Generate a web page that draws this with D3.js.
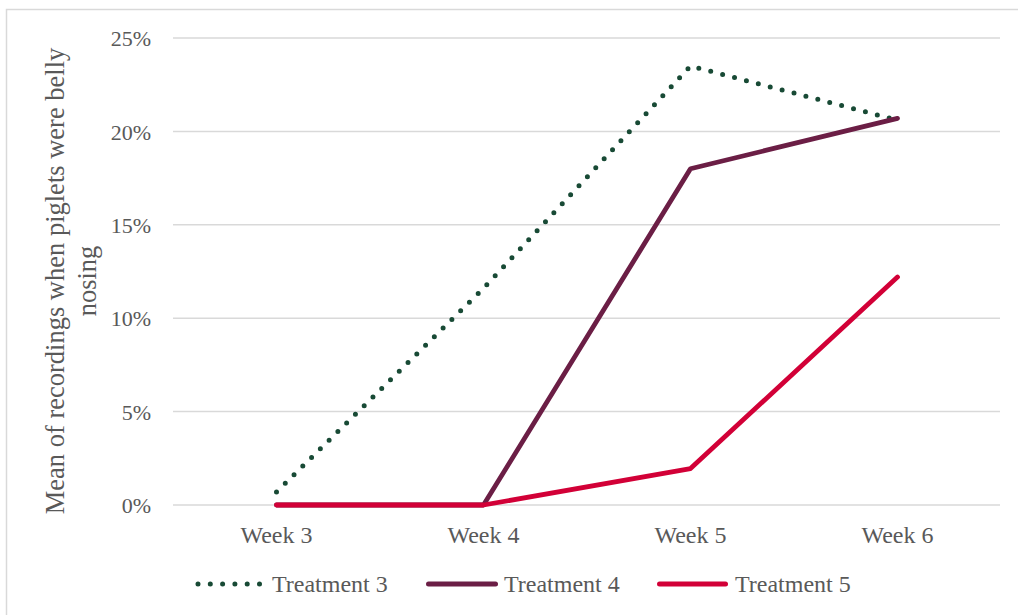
<!DOCTYPE html>
<html>
<head>
<meta charset="utf-8">
<script src="https://cdn.jsdelivr.net/npm/d3@7"></script>
<style>
html,body{margin:0;padding:0;background:#fff;}
svg{display:block;}
text{font-family:"Liberation Serif","Times New Roman",serif;fill:#595959;}
</style>
</head>
<body>
<svg id="chart" width="1018" height="615"></svg>
<script>
const categories = ["Week 3", "Week 4", "Week 5", "Week 6"];
const treatment3 = [0.007, 0.116, 0.235, 0.206];
const treatment4 = [0, 0, 0.180, 0.207];
const treatment5 = [0, 0, 0.0195, 0.122];
const seriesNames = ["Treatment 3", "Treatment 4", "Treatment 5"];
const yTicks = [0, 0.05, 0.10, 0.15, 0.20, 0.25];
const yTitleLines = ["Mean of recordings when piglets were belly", "nosing"];

const series = [
  {name: seriesNames[0], values: treatment3, color: "#184a35", dotted: true},
  {name: seriesNames[1], values: treatment4, color: "#6b1e45", dotted: false},
  {name: seriesNames[2], values: treatment5, color: "#d20037", dotted: false}
];

const svg = d3.select("#chart");
const W = 1018, H = 615;
const plot = {left: 173, right: 1001, top: 38, bottom: 505};

// outer border
svg.append("rect").attr("x", 6.5).attr("y", 9.5).attr("width", W + 10).attr("height", H + 10)
  .attr("fill", "none").attr("stroke", "#d9d9d9").attr("stroke-width", 1.5);

const x = d3.scaleBand().domain(categories).range([plot.left, plot.right]);
const y = d3.scaleLinear().domain([0, 0.25]).range([plot.bottom, plot.top]);

// gridlines
svg.append("g").selectAll("line").data(yTicks).join("line")
  .attr("x1", plot.left).attr("x2", plot.right - 1)
  .attr("y1", d => y(d)).attr("y2", d => y(d))
  .attr("stroke", "#d9d9d9").attr("stroke-width", 1.5);

// y axis labels
const yAxis = d3.axisLeft(y).tickValues(yTicks).tickFormat(d3.format(".0%")).tickSize(0).tickPadding(0);
const gy = svg.append("g").attr("transform", `translate(151,0)`).call(yAxis);
gy.select(".domain").remove();
gy.selectAll("text").attr("font-size", 22).attr("fill", "#595959")
  .attr("font-family", "Liberation Serif, Times New Roman, serif").attr("dy", "0.35em");

// x axis labels
const xAxis = d3.axisBottom(x).tickSize(0).tickPadding(0);
const gx = svg.append("g").attr("transform", `translate(0,${plot.bottom + 21})`).call(xAxis);
gx.select(".domain").remove();
gx.selectAll("text").attr("font-size", 24).attr("fill", "#595959")
  .attr("font-family", "Liberation Serif, Times New Roman, serif").attr("dy", "0.71em");

// y title
const yt = svg.append("text").attr("transform", `rotate(-90)`)
  .attr("text-anchor", "middle").attr("font-size", 26.5);
yTitleLines.forEach((t, i) => {
  yt.append("tspan").attr("x", -281).attr("y", 64 + i * 32).text(t);
});

// lines
const line = d3.line().x((d, i) => x(categories[i]) + x.bandwidth() / 2).y(d => y(d));
series.forEach(s => {
  const p = svg.append("path").datum(s.values).attr("d", line)
    .attr("fill", "none").attr("stroke", s.color).attr("stroke-width", 5);
  if (s.dotted) {
    p.attr("stroke-dasharray", "0 12.3").attr("stroke-linecap", "round");
  } else {
    p.attr("stroke-linejoin", "round").attr("stroke-linecap", "round").attr("stroke-width", 4.8);
  }
});

// legend
const legendX = [198, 428.5, 659.5];
const legendLen = [61.5, 67, 66];
const textX = [272, 504, 735];
const legendY = 584;
series.forEach((s, i) => {
  const g = svg.append("g");
  const l = g.append("line").attr("x1", legendX[i]).attr("x2", legendX[i] + legendLen[i])
    .attr("y1", legendY).attr("y2", legendY).attr("stroke", s.color).attr("stroke-width", 5)
    .attr("stroke-linecap", "round");
  if (s.dotted) l.attr("stroke-dasharray", "0 12.3");
  g.append("text").attr("x", textX[i]).attr("y", legendY).attr("dy", "0.35em")
    .attr("font-size", 24).text(s.name);
});
</script>
</body>
</html>
